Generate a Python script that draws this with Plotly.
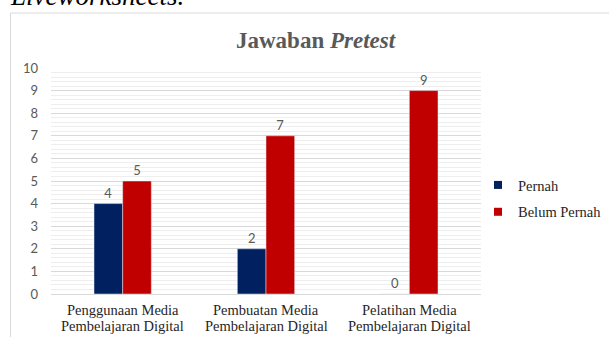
import plotly.graph_objects as go

categories = ["Penggunaan Media<br>Pembelajaran Digital",
              "Pembuatan Media<br>Pembelajaran Digital",
              "Pelatihan Media<br>Pembelajaran Digital"]
series_names = ["Pernah", "Belum Pernah"]
series_colors = ["#002060", "#C00000"]
pernah = [4, 2, 0]
belum_pernah = [5, 7, 9]
y_ticks = [0, 1, 2, 3, 4, 5, 6, 7, 8, 9, 10]

W, H = 609, 337
L, R, T, B = 51, 128, 68, 43
pw, ph = W - L - R, H - T - B

def px(x):
    return (x - L) / pw

def py(y):
    return (H - B - y) / ph

label_font = dict(family="Lato, Liberation Sans, sans-serif", size=13, color="#595959")
serif_dark = dict(family="Liberation Serif, serif", size=14.5, color="#262626")
legend_font = dict(family="Liberation Serif, serif", size=14.5, color="#262626")

fig = go.Figure()
for name, vals, col in zip(series_names, [pernah, belum_pernah], series_colors):
    fig.add_trace(go.Bar(name=name, x=categories, y=vals, marker_color=col,
                         text=vals, textposition="outside", textfont=label_font,
                         cliponaxis=False, showlegend=False))
# legend entries with small square keys
for i, (name, col) in enumerate(zip(series_names, series_colors)):
    fig.add_trace(go.Scatter(name=name, x=[None], y=[None], mode="markers",
                             marker=dict(symbol="square", size=8, color=col),
                             legendgroup=str(i), showlegend=True))

annotations = [
    dict(text="<b>Jawaban <i>Pretest</i></b>", xref="paper", yref="paper",
         x=px(316), y=py(40), xanchor="center", yanchor="middle", showarrow=False,
         font=dict(family="Liberation Serif, serif", size=23, color="#595959")),
    dict(text="<i>Liveworksheets.</i>", xref="paper", yref="paper",
         x=px(8), y=py(13.5), xanchor="left", yanchor="bottom", showarrow=False,
         font=dict(family="Liberation Serif, serif", size=27, color="#000000")),
]
# category labels, one line at a time (tight line spacing as in the reference)
for cat in categories:
    lines = cat.split("<br>")
    for i, line in enumerate(lines):
        annotations.append(dict(text=line, xref="x", yref="paper", x=cat,
                                y=py(309.5 + 16.5 * i), xanchor="center", yanchor="middle",
                                showarrow=False, font=serif_dark))

fig.update_layout(
    width=W, height=H,
    margin=dict(l=L, r=R, t=T, b=B, pad=0, autoexpand=False),
    paper_bgcolor="white", plot_bgcolor="white",
    barmode="group", bargap=0.6, bargroupgap=0,
    showlegend=True,
    legend=dict(x=px(478), y=py(169), xanchor="left", yanchor="top",
                font=legend_font,
                traceorder="grouped", tracegroupgap=5, itemwidth=30,
                bgcolor="rgba(0,0,0,0)"),
    font=dict(family="Liberation Serif, serif"),
    xaxis=dict(showgrid=False, showline=False, ticks="", zeroline=False,
               showticklabels=False),
    yaxis=dict(range=[0, 10], tickvals=y_ticks, showgrid=True, gridcolor="#d9d9d9",
               gridwidth=1, zeroline=True, zerolinecolor="#d9d9d9", zerolinewidth=1,
               showline=False, ticks="", ticklabelstandoff=12,
               tickfont=label_font,
               minor=dict(dtick=0.2, showgrid=True, gridcolor="#eeeeee", gridwidth=1)),
    shapes=[dict(type="rect", xref="paper", yref="paper",
                 x0=px(10.5), x1=px(640), y0=py(13), y1=py(360),
                 line=dict(color="#d9d9d9", width=1), fillcolor="rgba(0,0,0,0)", layer="below")],
    annotations=annotations,
)

fig.write_html("out.html", config={"displayModeBar": False},
               post_script="document.body.style.margin='0';")
